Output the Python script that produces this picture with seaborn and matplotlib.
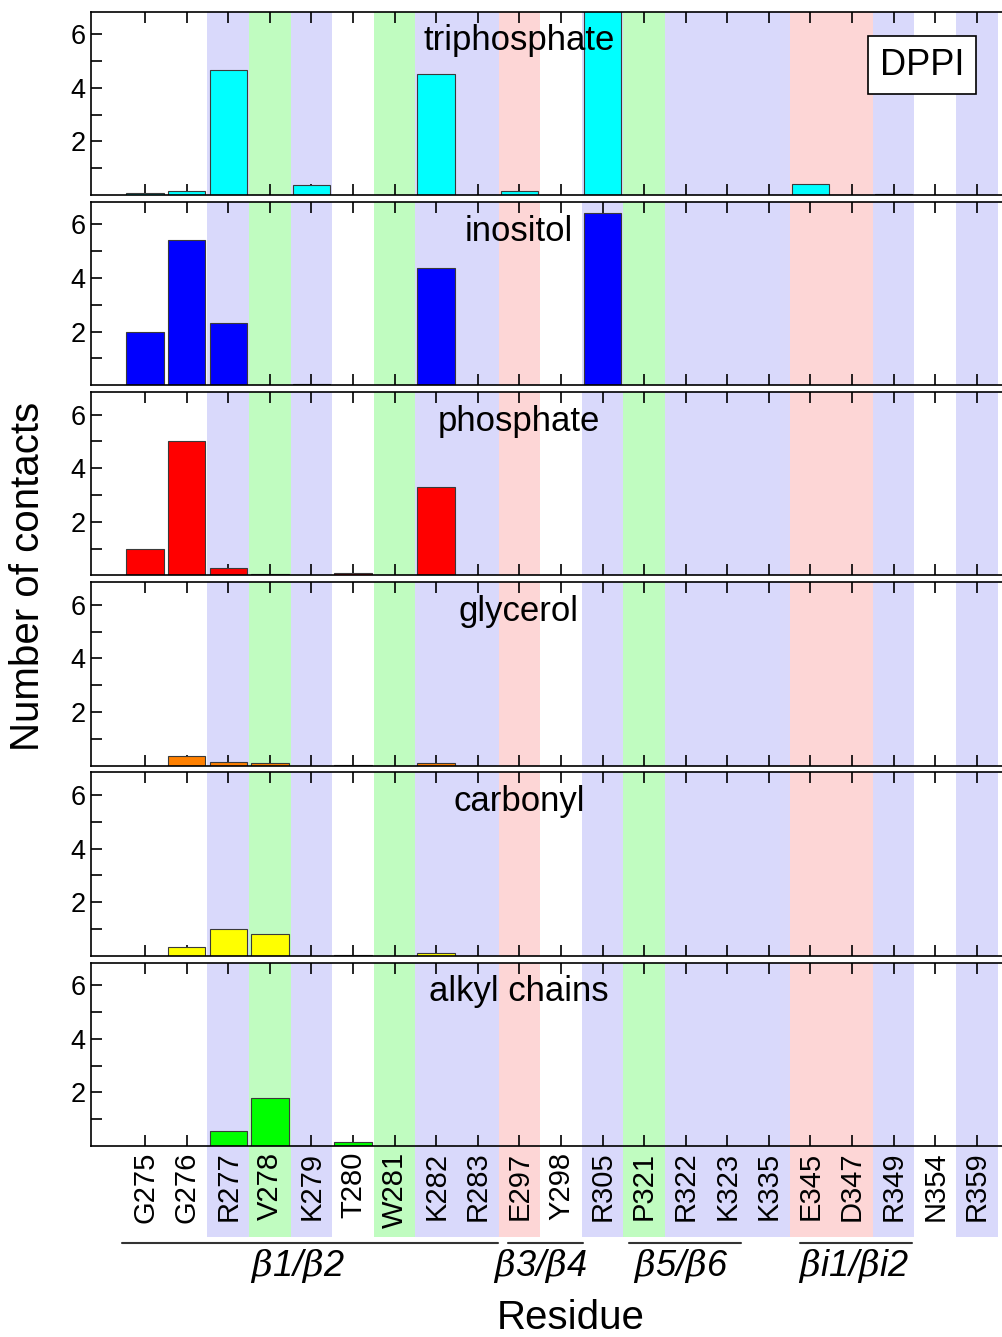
import matplotlib
matplotlib.use("Agg")
import matplotlib.pyplot as plt
import seaborn as sns
from matplotlib.ticker import FixedLocator

# residues on the x axis
residues = ["G275", "G276", "R277", "V278", "K279", "T280", "W281", "K282", "R283",
            "E297", "Y298", "R305", "P321", "R322", "K323", "K335", "E345", "D347",
            "R349", "N354", "R359"]

# number of contacts per lipid group
triphosphate = [0.09, 0.14, 4.66, 0, 0.36, 0, 0, 4.52, 0, 0.16, 0, 6.95, 0, 0, 0, 0, 0.40, 0, 0.04, 0, 0]
inositol = [1.97, 5.42, 2.31, 0, 0.04, 0, 0, 4.38, 0, 0, 0, 6.44, 0, 0, 0, 0, 0, 0, 0, 0, 0]
phosphate = [1.0, 5.02, 0.26, 0.05, 0, 0.1, 0, 3.31, 0, 0, 0, 0, 0, 0, 0, 0, 0, 0, 0, 0, 0]
glycerol = [0, 0.36, 0.15, 0.09, 0, 0.02, 0, 0.1, 0, 0, 0, 0, 0, 0, 0, 0, 0, 0, 0, 0, 0]
carbonyl = [0, 0.34, 0.99, 0.81, 0, 0.03, 0, 0.09, 0, 0, 0, 0, 0, 0, 0, 0, 0, 0, 0, 0, 0]
alkyl = [0, 0, 0.55, 1.79, 0, 0.14, 0, 0, 0, 0, 0, 0, 0, 0, 0, 0, 0, 0, 0, 0, 0]

group_names = ["triphosphate", "inositol", "phosphate", "glycerol", "carbonyl", "alkyl chains"]
group_values = [triphosphate, inositol, phosphate, glycerol, carbonyl, alkyl]
group_colors = ["#00ffff", "#0000ff", "#ff0000", "#ff8000", "#ffff00", "#00ff00"]

# secondary structure segments (label, line start, line end, label centre; residue index)
segments = [(r"$\beta$1/$\beta$2", -0.55, 8.49, 3.65),
            (r"$\beta$3/$\beta$4", 8.73, 10.53, 9.5),
            (r"$\beta$5/$\beta$6", 11.63, 14.33, 12.88),
            (r"$\beta$i1/$\beta$i2", 15.75, 18.44, 17.04)]

# background shading by residue type
type_colors = {"R": "#d9d9fb", "K": "#d9d9fb", "V": "#c0fcc0", "W": "#c0fcc0",
               "P": "#c0fcc0", "E": "#fdd6d6", "D": "#fdd6d6"}

sns.set_style("ticks")
plt.rcParams["font.family"] = ["Liberation Sans", "DejaVu Sans"]
plt.rcParams["mathtext.fontset"] = "custom"
plt.rcParams["mathtext.it"] = "DejaVu Serif:italic"
for key in ["text.color", "axes.labelcolor", "xtick.color", "ytick.color", "axes.edgecolor"]:
    plt.rcParams[key] = "black"

W, H = 1003, 1337
fig = plt.figure(figsize=(W / 100, H / 100), dpi=100)


def box(l, t, r, b):
    return [l / W, 1 - b / H, (r - l) / W, (b - t) / H]


xlim = (-1.3, 20.87)


def shade(ax):
    for i, res in enumerate(residues):
        c = type_colors.get(res[0])
        if c:
            ax.axvspan(i - 0.5, i + 0.5, color=c, lw=0, zorder=0)


# strip of shading behind the residue labels
strip = fig.add_axes(box(91, 1146, 1013, 1237))
strip.set_xlim(xlim)
shade(strip)
strip.axis("off")

axes = []
for k, (name, vals, color) in enumerate(zip(group_names, group_values, group_colors)):
    top = 11.5 + k * 190.2
    ax = fig.add_axes(box(91, top, 1013, top + 183.5))
    shade(ax)
    sns.barplot(x=residues, y=vals, color=color, saturation=1, width=0.9,
                edgecolor="#3a3a3a", linewidth=0.8, ax=ax, zorder=2)
    ax.set_xlim(xlim)
    ax.set_ylim(0, 6.85)
    ax.set_xticks(range(len(residues)))
    ax.set_xticklabels(residues)
    ax.set_yticks([2, 4, 6])
    ax.yaxis.set_minor_locator(FixedLocator([1, 3, 5]))
    ax.tick_params(axis="x", direction="in", top=True, bottom=True, length=8, width=1.2,
                   labelbottom=(k == 5), labelsize=21, labelrotation=90, pad=4)
    ax.tick_params(axis="y", which="both", direction="in", left=True, right=False,
                   length=8, width=1.2, labelsize=19.5, pad=4)
    ax.set_xlabel("")
    ax.set_ylabel("")
    for sp in ax.spines.values():
        sp.set_linewidth(1.2)
        sp.set_visible(True)
    ax.text(0.464, 0.84, name, transform=ax.transAxes, ha="center", va="center",
            fontsize=25, zorder=5)
    axes.append(ax)

axes[0].text(0.901, 0.708, "DPPI", transform=axes[0].transAxes, ha="center", va="center",
             fontsize=26, zorder=5,
             bbox=dict(boxstyle="square,pad=0.33", fc="white", ec="black", lw=1.2))

bottom = axes[-1]
tr = bottom.get_xaxis_transform()
for label, x0, x1, xc in segments:
    bottom.plot([x0, x1], [-0.526, -0.526], transform=tr, clip_on=False,
                color="#333333", lw=1.5)
    bottom.text(xc, -0.652, label, transform=tr, ha="center", va="center",
                fontsize=26, fontstyle="italic")

fig.text(571 / W, 1 - 1318 / H, "Residue", ha="center", va="center", fontsize=29)
fig.text(28 / W, 1 - 576 / H, "Number of contacts", ha="center", va="center",
         rotation=90, fontsize=29)

fig.savefig("out.png", dpi=100)
